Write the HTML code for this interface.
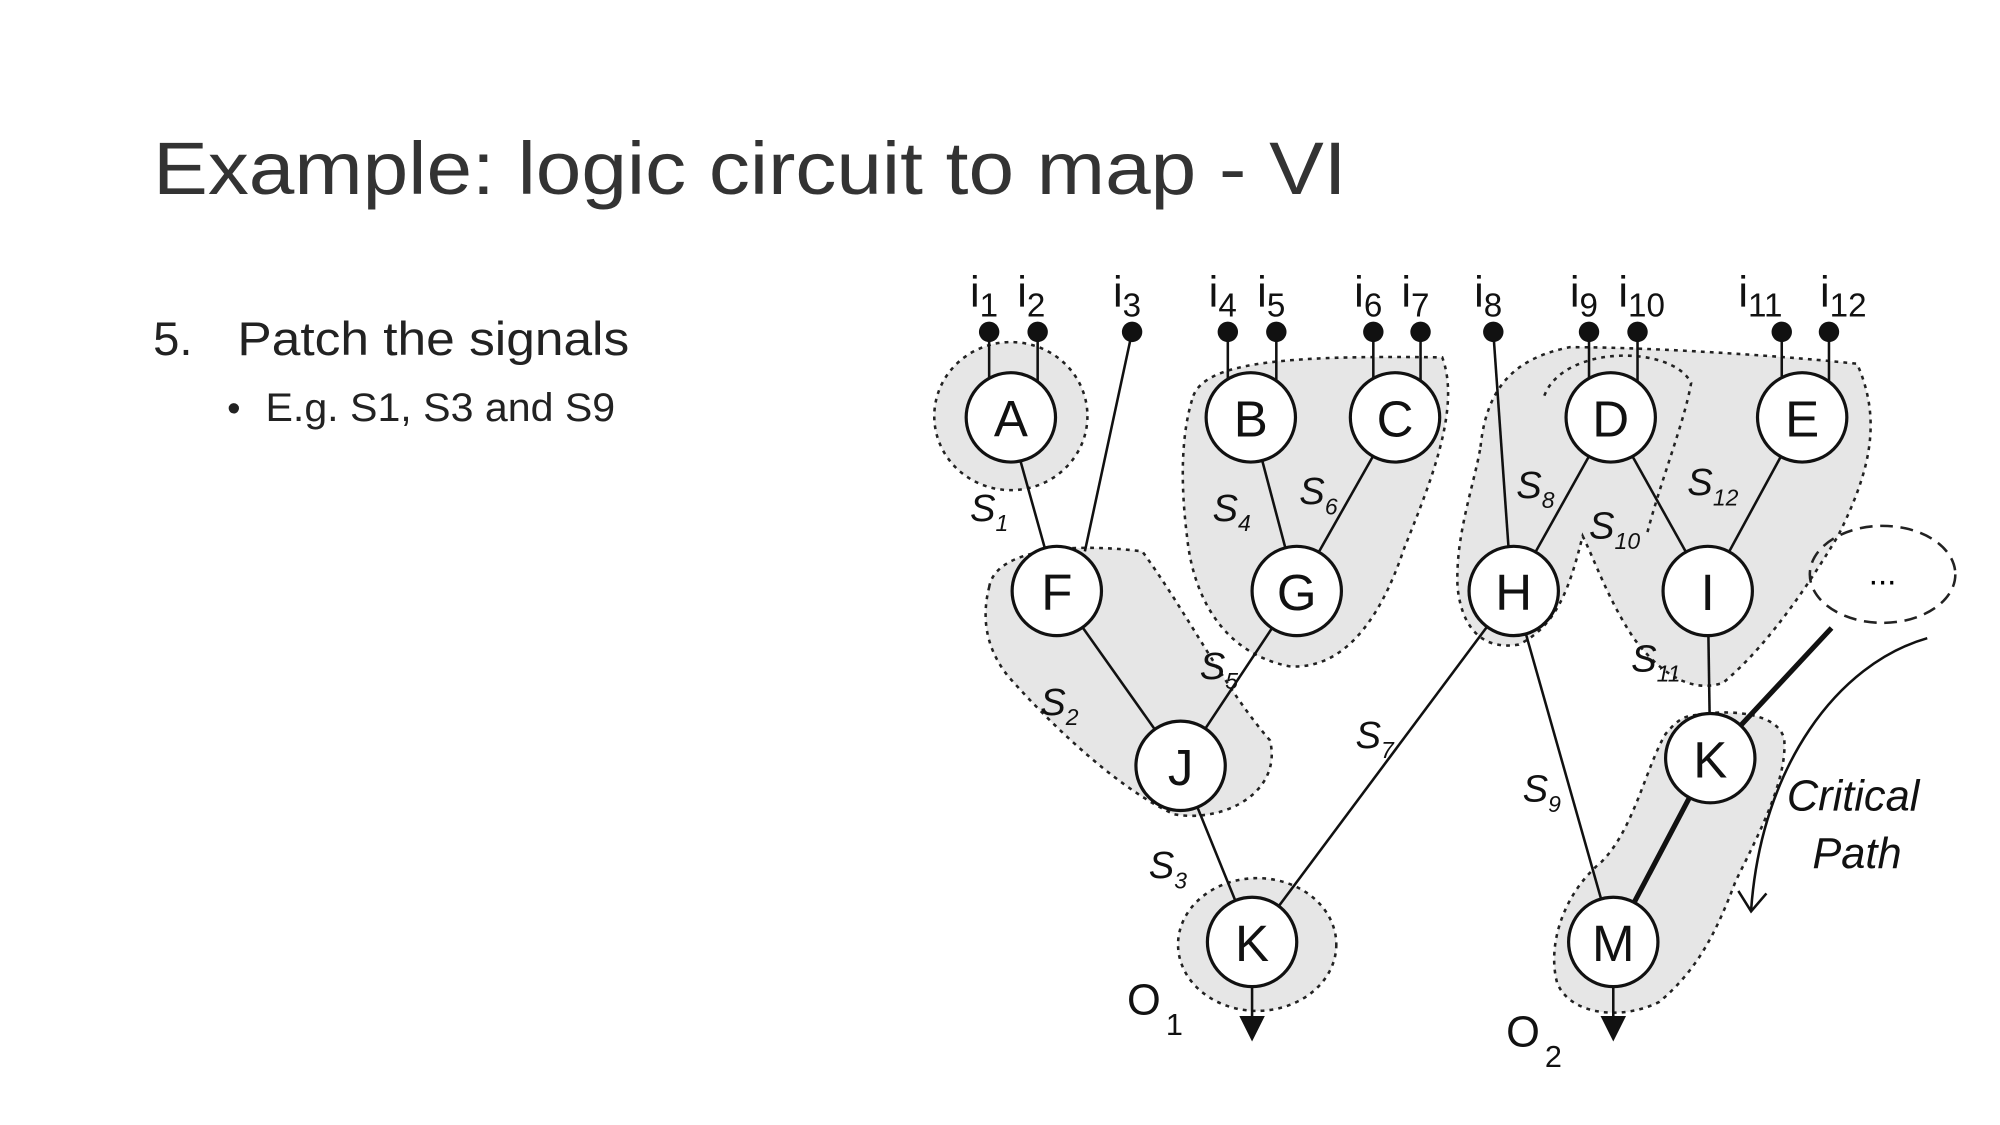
<!DOCTYPE html>
<html><head><meta charset="utf-8"><style>
html,body{margin:0;padding:0;background:#fff;}
svg{display:block}
</style></head><body>
<svg width="2000" height="1125" viewBox="0 0 1567 881.4" xmlns="http://www.w3.org/2000/svg" font-family="Liberation Sans, sans-serif">
<rect width="1567" height="882" fill="#fff"/>
<text x="120" y="152" font-size="58" fill="#333" textLength="935" lengthAdjust="spacingAndGlyphs">Example: logic circuit to map - VI</text>
<text x="120" y="278" font-size="37" fill="#222">5.</text>
<text x="186" y="278" font-size="37" fill="#222" textLength="307" lengthAdjust="spacingAndGlyphs">Patch the signals</text>
<text x="178" y="330" font-size="30" fill="#222">•</text>
<text x="208" y="330" font-size="31" fill="#222" textLength="274" lengthAdjust="spacingAndGlyphs">E.g. S1, S3 and S9</text>

<g fill="#e6e6e6" stroke="#222" stroke-width="2" stroke-dasharray="3,4">
<ellipse cx="792" cy="326" rx="60" ry="58"/>
<path d="M775,460 C780,430 840,425 895,432 C930,480 960,540 995,580 C1005,620 960,645 920,638 C880,620 830,575 790,530 C770,505 770,480 775,460Z"/>
<path d="M935,310 C945,285 1000,278 1130,280 C1145,320 1120,380 1100,430 C1080,490 1050,525 1010,522 C960,512 935,470 930,420 C925,380 925,340 935,310Z"/>
<ellipse cx="985" cy="740" rx="62" ry="52"/>
<path d="M1160,350 C1165,300 1190,280 1230,272 C1300,272 1410,280 1455,285 C1475,330 1465,370 1440,420 C1410,470 1380,510 1350,535 C1320,545 1295,520 1280,500 C1260,470 1250,440 1240,420 C1230,460 1220,490 1190,505 C1160,510 1145,490 1142,460 C1140,420 1155,380 1160,350Z"/>
<path d="M1210,310 C1225,270 1310,270 1325,300 C1320,330 1300,380 1290,420" fill="none"/>
<path d="M1330,560 C1360,555 1395,560 1398,580 C1400,610 1380,650 1360,690 C1345,730 1330,760 1300,785 C1270,800 1230,795 1220,770 C1212,740 1225,700 1255,675 C1280,650 1290,600 1305,575 C1315,563 1320,561 1330,560Z"/>
</g>
<ellipse cx="1475" cy="450" rx="57" ry="38" fill="none" stroke="#222" stroke-width="2" stroke-dasharray="10,6"/>
<text x="1475" y="458" font-size="26" text-anchor="middle">...</text>

<g stroke="#111" stroke-width="2" fill="none">
<line x1="775" y1="260" x2="775" y2="300"/><line x1="813" y1="260" x2="813" y2="300"/>
<line x1="887" y1="260" x2="850" y2="432"/>
<line x1="962" y1="260" x2="962" y2="300"/><line x1="1000" y1="260" x2="1000" y2="300"/>
<line x1="1076" y1="260" x2="1076" y2="300"/><line x1="1113" y1="260" x2="1113" y2="300"/>
<line x1="1170" y1="260" x2="1182" y2="430"/>
<line x1="1245" y1="260" x2="1245" y2="300"/><line x1="1283" y1="260" x2="1283" y2="300"/>
<line x1="1396" y1="260" x2="1396" y2="300"/><line x1="1433" y1="260" x2="1433" y2="300"/>
<line x1="790" y1="327" x2="828" y2="463"/>
<line x1="980" y1="327" x2="1016" y2="463"/>
<line x1="1093" y1="327" x2="1016" y2="463"/>
<line x1="828" y1="463" x2="925" y2="600"/>
<line x1="1016" y1="463" x2="925" y2="600"/>
<line x1="925" y1="600" x2="981" y2="738"/>
<line x1="1186" y1="463" x2="981" y2="738"/>
<line x1="1262" y1="327" x2="1186" y2="463"/>
<line x1="1262" y1="327" x2="1338" y2="463"/>
<line x1="1412" y1="327" x2="1338" y2="463"/>
<line x1="1186" y1="463" x2="1264" y2="738"/>
<line x1="1338" y1="463" x2="1340" y2="594"/>
<line x1="1435" y1="492" x2="1340" y2="594" stroke-width="4"/>
<line x1="1340" y1="594" x2="1264" y2="738" stroke-width="4"/>
<line x1="981" y1="738" x2="981" y2="800"/>
<line x1="1264" y1="738" x2="1264" y2="800"/>
<path d="M1510,500 C1440,520 1380,600 1372,713"/>
<path d="M1362,698 L1372,714 L1384,700"/>
</g>
<g fill="#111">
<path d="M971,796 L991,796 L981,816Z"/><path d="M1254,796 L1274,796 L1264,816Z"/>
<circle cx="775" cy="260" r="8"/><circle cx="813" cy="260" r="8"/><circle cx="887" cy="260" r="8"/>
<circle cx="962" cy="260" r="8"/><circle cx="1000" cy="260" r="8"/><circle cx="1076" cy="260" r="8"/>
<circle cx="1113" cy="260" r="8"/><circle cx="1170" cy="260" r="8"/><circle cx="1245" cy="260" r="8"/>
<circle cx="1283" cy="260" r="8"/><circle cx="1396" cy="260" r="8"/><circle cx="1433" cy="260" r="8"/>
</g>
<g fill="#fff" stroke="#111" stroke-width="2.5">
<circle cx="792" cy="327" r="35"/><circle cx="980" cy="327" r="35"/><circle cx="1093" cy="327" r="35"/>
<circle cx="1262" cy="327" r="35"/><circle cx="1412" cy="327" r="35"/>
<circle cx="828" cy="463" r="35"/><circle cx="1016" cy="463" r="35"/><circle cx="1186" cy="463" r="35"/>
<circle cx="1338" cy="463" r="35"/><circle cx="925" cy="600" r="35"/><circle cx="1340" cy="594" r="35"/>
<circle cx="981" cy="738" r="35"/><circle cx="1264" cy="738" r="35"/>
</g>
<g font-size="40" text-anchor="middle" fill="#111">
<text x="792" y="342">A</text><text x="980" y="342">B</text><text x="1093" y="342">C</text>
<text x="1262" y="342">D</text><text x="1412" y="342">E</text>
<text x="828" y="478">F</text><text x="1016" y="478">G</text><text x="1186" y="478">H</text>
<text x="1338" y="478">I</text><text x="925" y="615">J</text><text x="1340" y="609">K</text>
<text x="981" y="753">K</text><text x="1264" y="753">M</text>
</g>
<g font-size="34" fill="#111">
<text x="760" y="240">i<tspan font-size="26" dy="8">1</tspan></text>
<text x="797" y="240">i<tspan font-size="26" dy="8">2</tspan></text>
<text x="872" y="240">i<tspan font-size="26" dy="8">3</tspan></text>
<text x="947" y="240">i<tspan font-size="26" dy="8">4</tspan></text>
<text x="985" y="240">i<tspan font-size="26" dy="8">5</tspan></text>
<text x="1061" y="240">i<tspan font-size="26" dy="8">6</tspan></text>
<text x="1098" y="240">i<tspan font-size="26" dy="8">7</tspan></text>
<text x="1155" y="240">i<tspan font-size="26" dy="8">8</tspan></text>
<text x="1230" y="240">i<tspan font-size="26" dy="8">9</tspan></text>
<text x="1268" y="240">i<tspan font-size="26" dy="8">10</tspan></text>
<text x="1362" y="240">i<tspan font-size="26" dy="8">11</tspan></text>
<text x="1426" y="240">i<tspan font-size="26" dy="8">12</tspan></text>
<text x="883" y="795">O<tspan font-size="24" dx="4" dy="16">1</tspan></text>
<text x="1180" y="820">O<tspan font-size="24" dx="4" dy="16">2</tspan></text>
</g>
<g font-size="30" font-style="italic" fill="#111">
<text x="760" y="408">S<tspan font-size="18" dy="8">1</tspan></text>
<text x="815" y="560">S<tspan font-size="18" dy="8">2</tspan></text>
<text x="900" y="688">S<tspan font-size="18" dy="8">3</tspan></text>
<text x="950" y="408">S<tspan font-size="18" dy="8">4</tspan></text>
<text x="940" y="532">S<tspan font-size="18" dy="8">5</tspan></text>
<text x="1018" y="395">S<tspan font-size="18" dy="8">6</tspan></text>
<text x="1062" y="586">S<tspan font-size="18" dy="8">7</tspan></text>
<text x="1188" y="390">S<tspan font-size="18" dy="8">8</tspan></text>
<text x="1193" y="628">S<tspan font-size="18" dy="8">9</tspan></text>
<text x="1245" y="422">S<tspan font-size="18" dy="8">10</tspan></text>
<text x="1278" y="526">S<tspan font-size="18" dy="8">11</tspan></text>
<text x="1322" y="388">S<tspan font-size="18" dy="8">12</tspan></text>
<text x="1400" y="635" font-size="34">Critical</text>
<text x="1420" y="680" font-size="34">Path</text>
</g>
</svg>
</body></html>
